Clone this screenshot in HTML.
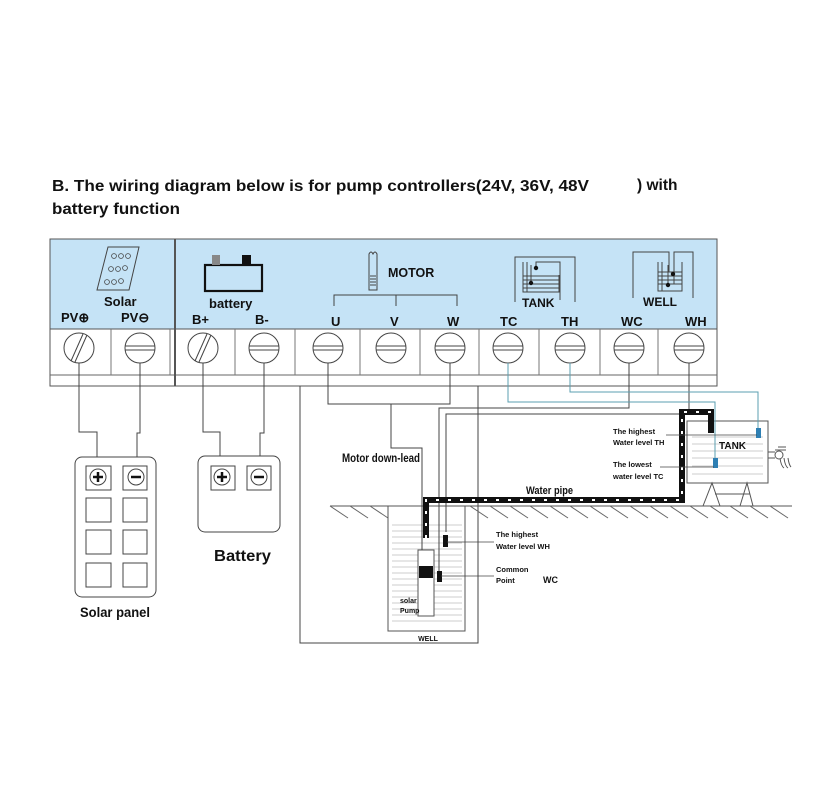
<!DOCTYPE html>
<html><head><meta charset="utf-8"><style>
html,body{margin:0;padding:0;background:#fff;}
svg{display:block;font-family:"Liberation Sans",Arial,sans-serif;}
.b{font-weight:bold;}
</style></head><body>
<svg width="839" height="800" viewBox="0 0 839 800" xmlns="http://www.w3.org/2000/svg">
<defs>
<pattern id="hatch" width="8" height="8" patternUnits="userSpaceOnUse"></pattern>
</defs>
<!-- Title -->
<text x="52" y="191" class="b" font-size="15.5" fill="#111" textLength="537" lengthAdjust="spacingAndGlyphs">B. The wiring diagram below is for pump controllers(24V, 36V, 48V</text>
<text x="637" y="190" class="b" font-size="15.5" fill="#111">) with</text>
<text x="52" y="214" class="b" font-size="15.5" fill="#111" textLength="128" lengthAdjust="spacingAndGlyphs">battery function</text>

<!-- Controller panel -->
<rect x="50" y="239" width="667" height="90" fill="#c5e3f6" stroke="#555" stroke-width="1"/>
<rect x="50" y="329" width="667" height="57" fill="#fff" stroke="#555" stroke-width="1"/>
<line x1="50" y1="375" x2="717" y2="375" stroke="#666"/>
<line x1="175" y1="239" x2="175" y2="386" stroke="#555" stroke-width="2"/>
<g stroke="#777" stroke-width="1">
<line x1="111" y1="329" x2="111" y2="375"/><line x1="170" y1="329" x2="170" y2="375"/>
<line x1="235" y1="329" x2="235" y2="375"/><line x1="295" y1="329" x2="295" y2="375"/>
<line x1="360" y1="329" x2="360" y2="375"/><line x1="420" y1="329" x2="420" y2="375"/>
<line x1="479" y1="329" x2="479" y2="375"/><line x1="539" y1="329" x2="539" y2="375"/>
<line x1="600" y1="329" x2="600" y2="375"/><line x1="658" y1="329" x2="658" y2="375"/>
</g>
<!-- terminals -->
<g fill="#fff" stroke="#444" stroke-width="1">
<circle cx="79" cy="348" r="15"/><circle cx="140" cy="348" r="15"/>
<circle cx="203" cy="348" r="15"/><circle cx="264" cy="348" r="15"/>
<circle cx="328" cy="348" r="15"/><circle cx="391" cy="348" r="15"/>
<circle cx="450" cy="348" r="15"/><circle cx="508" cy="348" r="15"/>
<circle cx="570" cy="348" r="15"/><circle cx="629" cy="348" r="15"/>
<circle cx="689" cy="348" r="15"/>
</g>
<g stroke="#444" stroke-width="1">
<line x1="71" y1="361" x2="83" y2="334"/><line x1="75" y1="362" x2="87" y2="335"/>
<line x1="195" y1="361" x2="207" y2="334"/><line x1="199" y1="362" x2="211" y2="335"/>
<g id="sl"><line x1="125" y1="346" x2="155" y2="346"/><line x1="125" y1="350" x2="155" y2="350"/></g>
<line x1="249" y1="346" x2="279" y2="346"/><line x1="249" y1="350" x2="279" y2="350"/>
<line x1="313" y1="346" x2="343" y2="346"/><line x1="313" y1="350" x2="343" y2="350"/>
<line x1="376" y1="346" x2="406" y2="346"/><line x1="376" y1="350" x2="406" y2="350"/>
<line x1="435" y1="346" x2="465" y2="346"/><line x1="435" y1="350" x2="465" y2="350"/>
<line x1="493" y1="346" x2="523" y2="346"/><line x1="493" y1="350" x2="523" y2="350"/>
<line x1="555" y1="346" x2="585" y2="346"/><line x1="555" y1="350" x2="585" y2="350"/>
<line x1="614" y1="346" x2="644" y2="346"/><line x1="614" y1="350" x2="644" y2="350"/>
<line x1="674" y1="346" x2="704" y2="346"/><line x1="674" y1="350" x2="704" y2="350"/>
</g>

<!-- panel labels -->
<g class="b" font-size="13" fill="#111">
<text x="61" y="322">PV⊕</text><text x="121" y="322">PV⊖</text>
<text x="104" y="306" font-size="13">Solar</text>
<text x="209" y="308" font-size="13">battery</text>
<text x="192" y="324">B+</text><text x="255" y="324">B-</text>
<text x="388" y="277" font-size="12.5">MOTOR</text>
<text x="331" y="326">U</text><text x="390" y="326">V</text><text x="447" y="326">W</text>
<text x="522" y="307" font-size="12">TANK</text>
<text x="643" y="306" font-size="12">WELL</text>
<text x="500" y="326">TC</text><text x="561" y="326">TH</text>
<text x="621" y="326">WC</text><text x="685" y="326">WH</text>
</g>
<!-- solar icon -->
<polygon points="108,247 139,247 129,290 97,290" fill="none" stroke="#444"/>
<g fill="none" stroke="#444" stroke-width="0.8">
<circle cx="114" cy="256" r="2.4"/><circle cx="121" cy="256" r="2.4"/><circle cx="128" cy="256" r="2.4"/>
<circle cx="111" cy="269" r="2.4"/><circle cx="118" cy="269" r="2.4"/><circle cx="125" cy="268" r="2.4"/>
<circle cx="107" cy="282" r="2.4"/><circle cx="114" cy="282" r="2.4"/><circle cx="121" cy="281" r="2.4"/>
</g>
<!-- battery icon -->
<rect x="205" y="265" width="57" height="26" fill="none" stroke="#111" stroke-width="2.2"/>
<rect x="212" y="255" width="8" height="10" fill="#888"/>
<rect x="242" y="255" width="9" height="10" fill="#111"/>
<!-- motor icon -->
<path d="M369,290 V254 Q371,250 373,254 Q375,250 377,254 V290 Z" fill="none" stroke="#444"/>
<g stroke="#444"><line x1="370" y1="276" x2="376" y2="276"/><line x1="370" y1="279" x2="376" y2="279"/><line x1="370" y1="282" x2="376" y2="282"/><line x1="370" y1="285" x2="376" y2="285"/></g>
<g stroke="#444" fill="none">
<path d="M334,306 V295 H457 V306"/><line x1="396" y1="295" x2="396" y2="306"/>
</g>
<!-- tank icon -->
<g stroke="#444" fill="none" stroke-width="1">
<path d="M515,302 V257 H575 V302"/>
<path d="M523,262 V292 H559 V275"/><line x1="527" y1="262" x2="527" y2="292"/>
<line x1="523" y1="276" x2="559" y2="276"/><line x1="523" y1="280" x2="559" y2="280"/><line x1="523" y1="284" x2="559" y2="284"/><line x1="523" y1="288" x2="559" y2="288"/>
<path d="M536,268 V262 H560 V300"/>
<path d="M531,283 V265"/>
</g>
<circle cx="536" cy="268" r="2.2" fill="#111"/><circle cx="531" cy="283" r="2.2" fill="#111"/>
<!-- well icon -->
<g stroke="#444" fill="none" stroke-width="1">
<path d="M633,298 V252 H669 V272"/>
<path d="M674,284 V252 H693 V298"/>
<path d="M658,262 V291 H682 V262"/><line x1="662" y1="262" x2="662" y2="291"/>
<line x1="658" y1="272" x2="682" y2="272"/><line x1="658" y1="276" x2="682" y2="276"/><line x1="658" y1="280" x2="682" y2="280"/><line x1="658" y1="284" x2="682" y2="284"/>
<line x1="668" y1="265" x2="668" y2="284"/>
</g>
<circle cx="673" cy="274" r="2.2" fill="#111"/><circle cx="668" cy="285" r="2.2" fill="#111"/>

<!-- wires -->
<g stroke="#444" stroke-width="1" fill="none">
<path d="M79,363 V432 H97 V476"/>
<path d="M140,363 V433 H137 V476"/>
<path d="M203,363 V432 H220 V476"/>
<path d="M264,363 V433 H260 V476"/>
<path d="M300,386 V643 H478 V386"/>
<path d="M328,363 V404 H450 V363"/>
<path d="M391,404 V448 H422 V550"/>
<path d="M629,363 V408 H439 V572"/>
<path d="M689,363 V414 H446 V532"/>
</g>
<g stroke="#5b9fb0" stroke-width="1" fill="none">
<path d="M508,363 V402 H715 V462"/>
<path d="M570,363 V392 H758 V430"/>
</g>

<!-- solar panel -->
<rect x="75" y="457" width="81" height="140" rx="7" fill="#fff" stroke="#444"/>
<g fill="#fff" stroke="#444">
<rect x="86" y="466" width="25" height="24"/><rect x="123" y="466" width="24" height="24"/>
<rect x="86" y="498" width="25" height="24"/><rect x="123" y="498" width="24" height="24"/>
<rect x="86" y="530" width="25" height="24"/><rect x="123" y="530" width="24" height="24"/>
<rect x="86" y="563" width="25" height="24"/><rect x="123" y="563" width="24" height="24"/>
<circle cx="98" cy="477" r="8"/><circle cx="136" cy="477" r="8"/>
</g>
<text x="80" y="617" class="b" font-size="14" fill="#111" textLength="70" lengthAdjust="spacingAndGlyphs">Solar panel</text>
<!-- battery -->
<rect x="198" y="456" width="82" height="76" rx="7" fill="#fff" stroke="#444"/>
<g fill="#fff" stroke="#444">
<rect x="211" y="466" width="24" height="24"/><rect x="247" y="466" width="24" height="24"/>
<circle cx="222" cy="477" r="8"/><circle cx="259" cy="477" r="8"/>
</g>
<g stroke="#111" stroke-width="2.5">
<line x1="93" y1="477" x2="103" y2="477"/><line x1="98" y1="472" x2="98" y2="482"/>
<line x1="131" y1="477" x2="141" y2="477"/>
<line x1="217" y1="477" x2="227" y2="477"/><line x1="222" y1="472" x2="222" y2="482"/>
<line x1="254" y1="477" x2="264" y2="477"/>
</g>
<text x="214" y="561" class="b" font-size="16" fill="#111" textLength="57" lengthAdjust="spacingAndGlyphs">Battery</text>

<!-- ground -->
<line x1="330" y1="506" x2="792" y2="506" stroke="#555"/>
<g stroke="#666" stroke-width="1">
<line x1="330" y1="506" x2="348" y2="518"/><line x1="350" y1="506" x2="368" y2="518"/><line x1="370" y1="506" x2="388" y2="518"/>
<line x1="470" y1="506" x2="488" y2="518"/><line x1="490" y1="506" x2="508" y2="518"/><line x1="510" y1="506" x2="528" y2="518"/>
<line x1="530" y1="506" x2="548" y2="518"/><line x1="550" y1="506" x2="568" y2="518"/><line x1="570" y1="506" x2="588" y2="518"/>
<line x1="590" y1="506" x2="608" y2="518"/><line x1="610" y1="506" x2="628" y2="518"/><line x1="630" y1="506" x2="648" y2="518"/>
<line x1="650" y1="506" x2="668" y2="518"/><line x1="670" y1="506" x2="688" y2="518"/><line x1="690" y1="506" x2="708" y2="518"/>
<line x1="710" y1="506" x2="728" y2="518"/><line x1="730" y1="506" x2="748" y2="518"/><line x1="750" y1="506" x2="768" y2="518"/>
<line x1="770" y1="506" x2="788" y2="518"/>
</g>
<!-- well -->
<rect x="388" y="506" width="77" height="125" fill="#fff" stroke="#555"/>
<g stroke="#bbb" stroke-width="0.8">
<line x1="392" y1="525" x2="462" y2="525"/><line x1="392" y1="531" x2="462" y2="531"/><line x1="392" y1="537" x2="462" y2="537"/>
<line x1="392" y1="543" x2="462" y2="543"/><line x1="392" y1="549" x2="462" y2="549"/><line x1="392" y1="555" x2="462" y2="555"/>
<line x1="392" y1="561" x2="462" y2="561"/><line x1="392" y1="567" x2="462" y2="567"/><line x1="392" y1="573" x2="462" y2="573"/>
<line x1="392" y1="579" x2="462" y2="579"/><line x1="392" y1="585" x2="462" y2="585"/><line x1="392" y1="591" x2="462" y2="591"/>
<line x1="392" y1="597" x2="462" y2="597"/><line x1="392" y1="603" x2="462" y2="603"/><line x1="392" y1="609" x2="462" y2="609"/>
<line x1="392" y1="615" x2="462" y2="615"/><line x1="392" y1="621" x2="462" y2="621"/>
</g>
<rect x="418" y="550" width="16" height="66" fill="#fff" stroke="#555"/>
<rect x="419" y="566" width="14" height="12" fill="#111"/>
<g stroke="#444"><path d="M422,448 V550" fill="none"/><path d="M439,408 V572" fill="none"/><path d="M446,414 V532" fill="none"/></g>
<rect x="443" y="535" width="5" height="12" fill="#111"/>
<rect x="437" y="571" width="5" height="11" fill="#111"/>
<text x="428" y="641" class="b" font-size="7" fill="#111" text-anchor="middle">WELL</text>
<text x="400" y="603" class="b" font-size="7" fill="#111">solar</text>
<text x="400" y="613" class="b" font-size="7" fill="#111">Pump</text>

<!-- water pipe -->
<path d="M426,538 V500 H682 V412 H711 V433" fill="none" stroke="#111" stroke-width="6"/>
<path d="M426,538 V500 H682 V412 H711 V433" fill="none" stroke="#fff" stroke-width="2" stroke-dasharray="3 9"/>

<!-- tank -->
<rect x="687" y="421" width="81" height="62" fill="#fff" stroke="#555"/>
<g stroke="#bbb" stroke-width="0.8">
<line x1="692" y1="437" x2="763" y2="437"/><line x1="692" y1="444" x2="763" y2="444"/><line x1="692" y1="451" x2="763" y2="451"/>
<line x1="692" y1="458" x2="763" y2="458"/><line x1="692" y1="466" x2="763" y2="466"/><line x1="692" y1="474" x2="763" y2="474"/>
</g>
<path d="M711,415 V433" stroke="#111" stroke-width="6"/>
<g stroke="#555" fill="none">
<path d="M703,506 L712,483 L720,506"/><path d="M740,506 L747,483 L753,506"/><line x1="715" y1="494" x2="750" y2="494"/>
<path d="M768,452 H775 M768,458 H775 M775,450 H786 M778,447 H786"/>
<path d="M780,458 Q781,466 784,468 M784,458 Q785,466 788,468 M788,458 Q789,465 791,467"/>
</g>
<circle cx="779" cy="455" r="4" fill="#fff" stroke="#555"/>
<g stroke="#5b9fb0"><path d="M715,402 V462 M758,392 V430" fill="none"/></g>
<rect x="756" y="428" width="5" height="10" fill="#2e7fb3"/>
<rect x="713" y="458" width="5" height="10" fill="#2e7fb3"/>
<line x1="666" y1="435" x2="757" y2="435" stroke="#444" stroke-width="0.8"/>
<line x1="660" y1="467" x2="714" y2="467" stroke="#444" stroke-width="0.8"/>
<line x1="447" y1="542" x2="494" y2="542" stroke="#444" stroke-width="0.8"/>
<line x1="441" y1="576" x2="494" y2="576" stroke="#444" stroke-width="0.8"/>
<text x="719" y="449" class="b" font-size="10" fill="#111">TANK</text>
<g class="b" font-size="7.5" fill="#111">
<text x="613" y="434">The highest</text><text x="613" y="445">Water level  TH</text>
<text x="613" y="467">The lowest</text><text x="613" y="479">water level  TC</text>
<text x="496" y="537">The highest</text><text x="496" y="549">Water level  WH</text>
<text x="496" y="572">Common</text><text x="496" y="583">Point</text>
</g>
<text x="543" y="583" class="b" font-size="9" fill="#111">WC</text>
<text x="342" y="462" class="b" font-size="12" fill="#111" textLength="78" lengthAdjust="spacingAndGlyphs">Motor down-lead</text>
<text x="526" y="494" class="b" font-size="11" fill="#111" textLength="47" lengthAdjust="spacingAndGlyphs">Water pipe</text>
</svg>
</body></html>
